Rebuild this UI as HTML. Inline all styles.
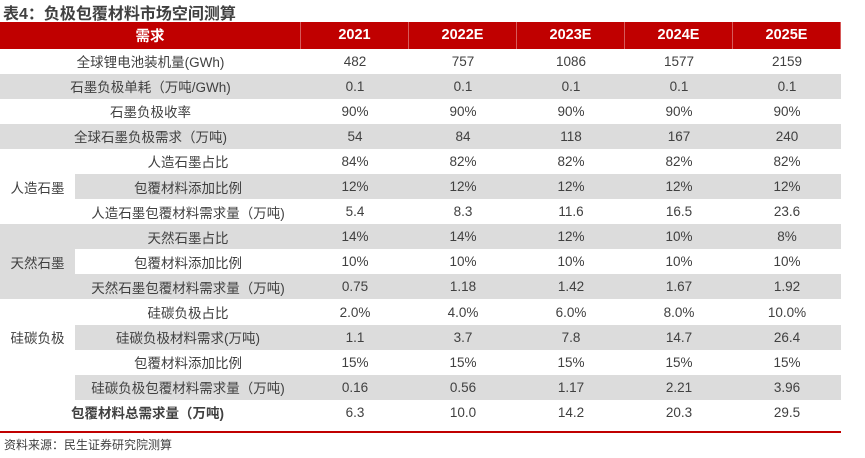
<!DOCTYPE html>
<html><head><meta charset="utf-8"><style>
body{margin:0;width:865px;height:458px;background:#fff;position:relative;overflow:hidden;font-family:"Liberation Sans","Noto Sans CJK SC",sans-serif;}
.c{position:absolute;display:flex;align-items:center;justify-content:center;font-size:13.5px;color:#404040;box-sizing:border-box;}
.h{background:#c00000;color:#fff;font-weight:bold;font-size:14.5px;border-right:1px solid #d65a5a;}
.g{background:#dcdcdc;}
</style></head><body>
<div style="position:absolute;left:3px;top:0px;font-size:16px;font-weight:bold;color:#404040;">表4：负极包覆材料市场空间测算</div>
<div id="t"></div>
<div style="position:absolute;left:0;top:431px;width:841px;height:2px;background:#c00000;"></div>
<div style="position:absolute;left:4px;top:436px;font-size:12px;color:#404040;">资料来源：民生证券研究院测算</div>
<script>
const years=["2021","2022E","2023E","2024E","2025E"];
const labels=["全球锂电池装机量(GWh)","石墨负极单耗（万吨/GWh)","石墨负极收率","全球石墨负极需求（万吨)","人造石墨占比","包覆材料添加比例","人造石墨包覆材料需求量（万吨)","天然石墨占比","包覆材料添加比例","天然石墨包覆材料需求量（万吨)","硅碳负极占比","硅碳负极材料需求(万吨)","包覆材料添加比例","硅碳负极包覆材料需求量（万吨)","包覆材料总需求量（万吨)"];
const v2021=["482","0.1","90%","54","84%","12%","5.4","14%","10%","0.75","2.0%","1.1","15%","0.16","6.3"];
const v2022=["757","0.1","90%","84","82%","12%","8.3","14%","10%","1.18","4.0%","3.7","15%","0.56","10.0"];
const v2023=["1086","0.1","90%","118","82%","12%","11.6","12%","10%","1.42","6.0%","7.8","15%","1.17","14.2"];
const v2024=["1577","0.1","90%","167","82%","12%","16.5","10%","10%","1.67","8.0%","14.7","15%","2.21","20.3"];
const v2025=["2159","0.1","90%","240","82%","12%","23.6","8%","10%","1.92","10.0%","26.4","15%","3.96","29.5"];
const groups=[["人造石墨",4,false],["天然石墨",7,true],["硅碳负极",10,false]];
const gray=[1,3,5,7,9,11,13];
const cols=[v2021,v2022,v2023,v2024,v2025];
const t=document.getElementById('t');
function cell(x,y,w,h,txt,cls){const d=document.createElement('div');d.className='c '+cls;d.style.left=x+'px';d.style.top=y+'px';d.style.width=w+'px';d.style.height=h+'px';d.textContent=txt;t.appendChild(d);return d;}
const top0=48.5,rh=25.1,x0=301,cw=108;
let e=cell(0,22,x0,26.5,"需求","h");


years.forEach((y,i)=>{const d=cell(x0+i*cw,22,cw,26.5,y,"h");

});
labels.forEach((l,r)=>{
 const y=top0+r*rh;const g=gray.includes(r)?'g':'';
 const lx=(r>=4&&r<=13)?75:0;
 const d=cell(lx,y,x0-lx,rh,l,g);
 if(r===14){d.style.fontWeight='bold';d.style.justifyContent='flex-start';d.style.paddingLeft='71px';}
 
 
 cols.forEach((c,i)=>{const v=cell(x0+i*cw,y,cw,rh,c[r],g);
 
 });
});
groups.forEach(([n,s,g])=>{const d=cell(0,top0+s*rh,75,rh*3,n,g?'g':'');

});
</script>
</body></html>
